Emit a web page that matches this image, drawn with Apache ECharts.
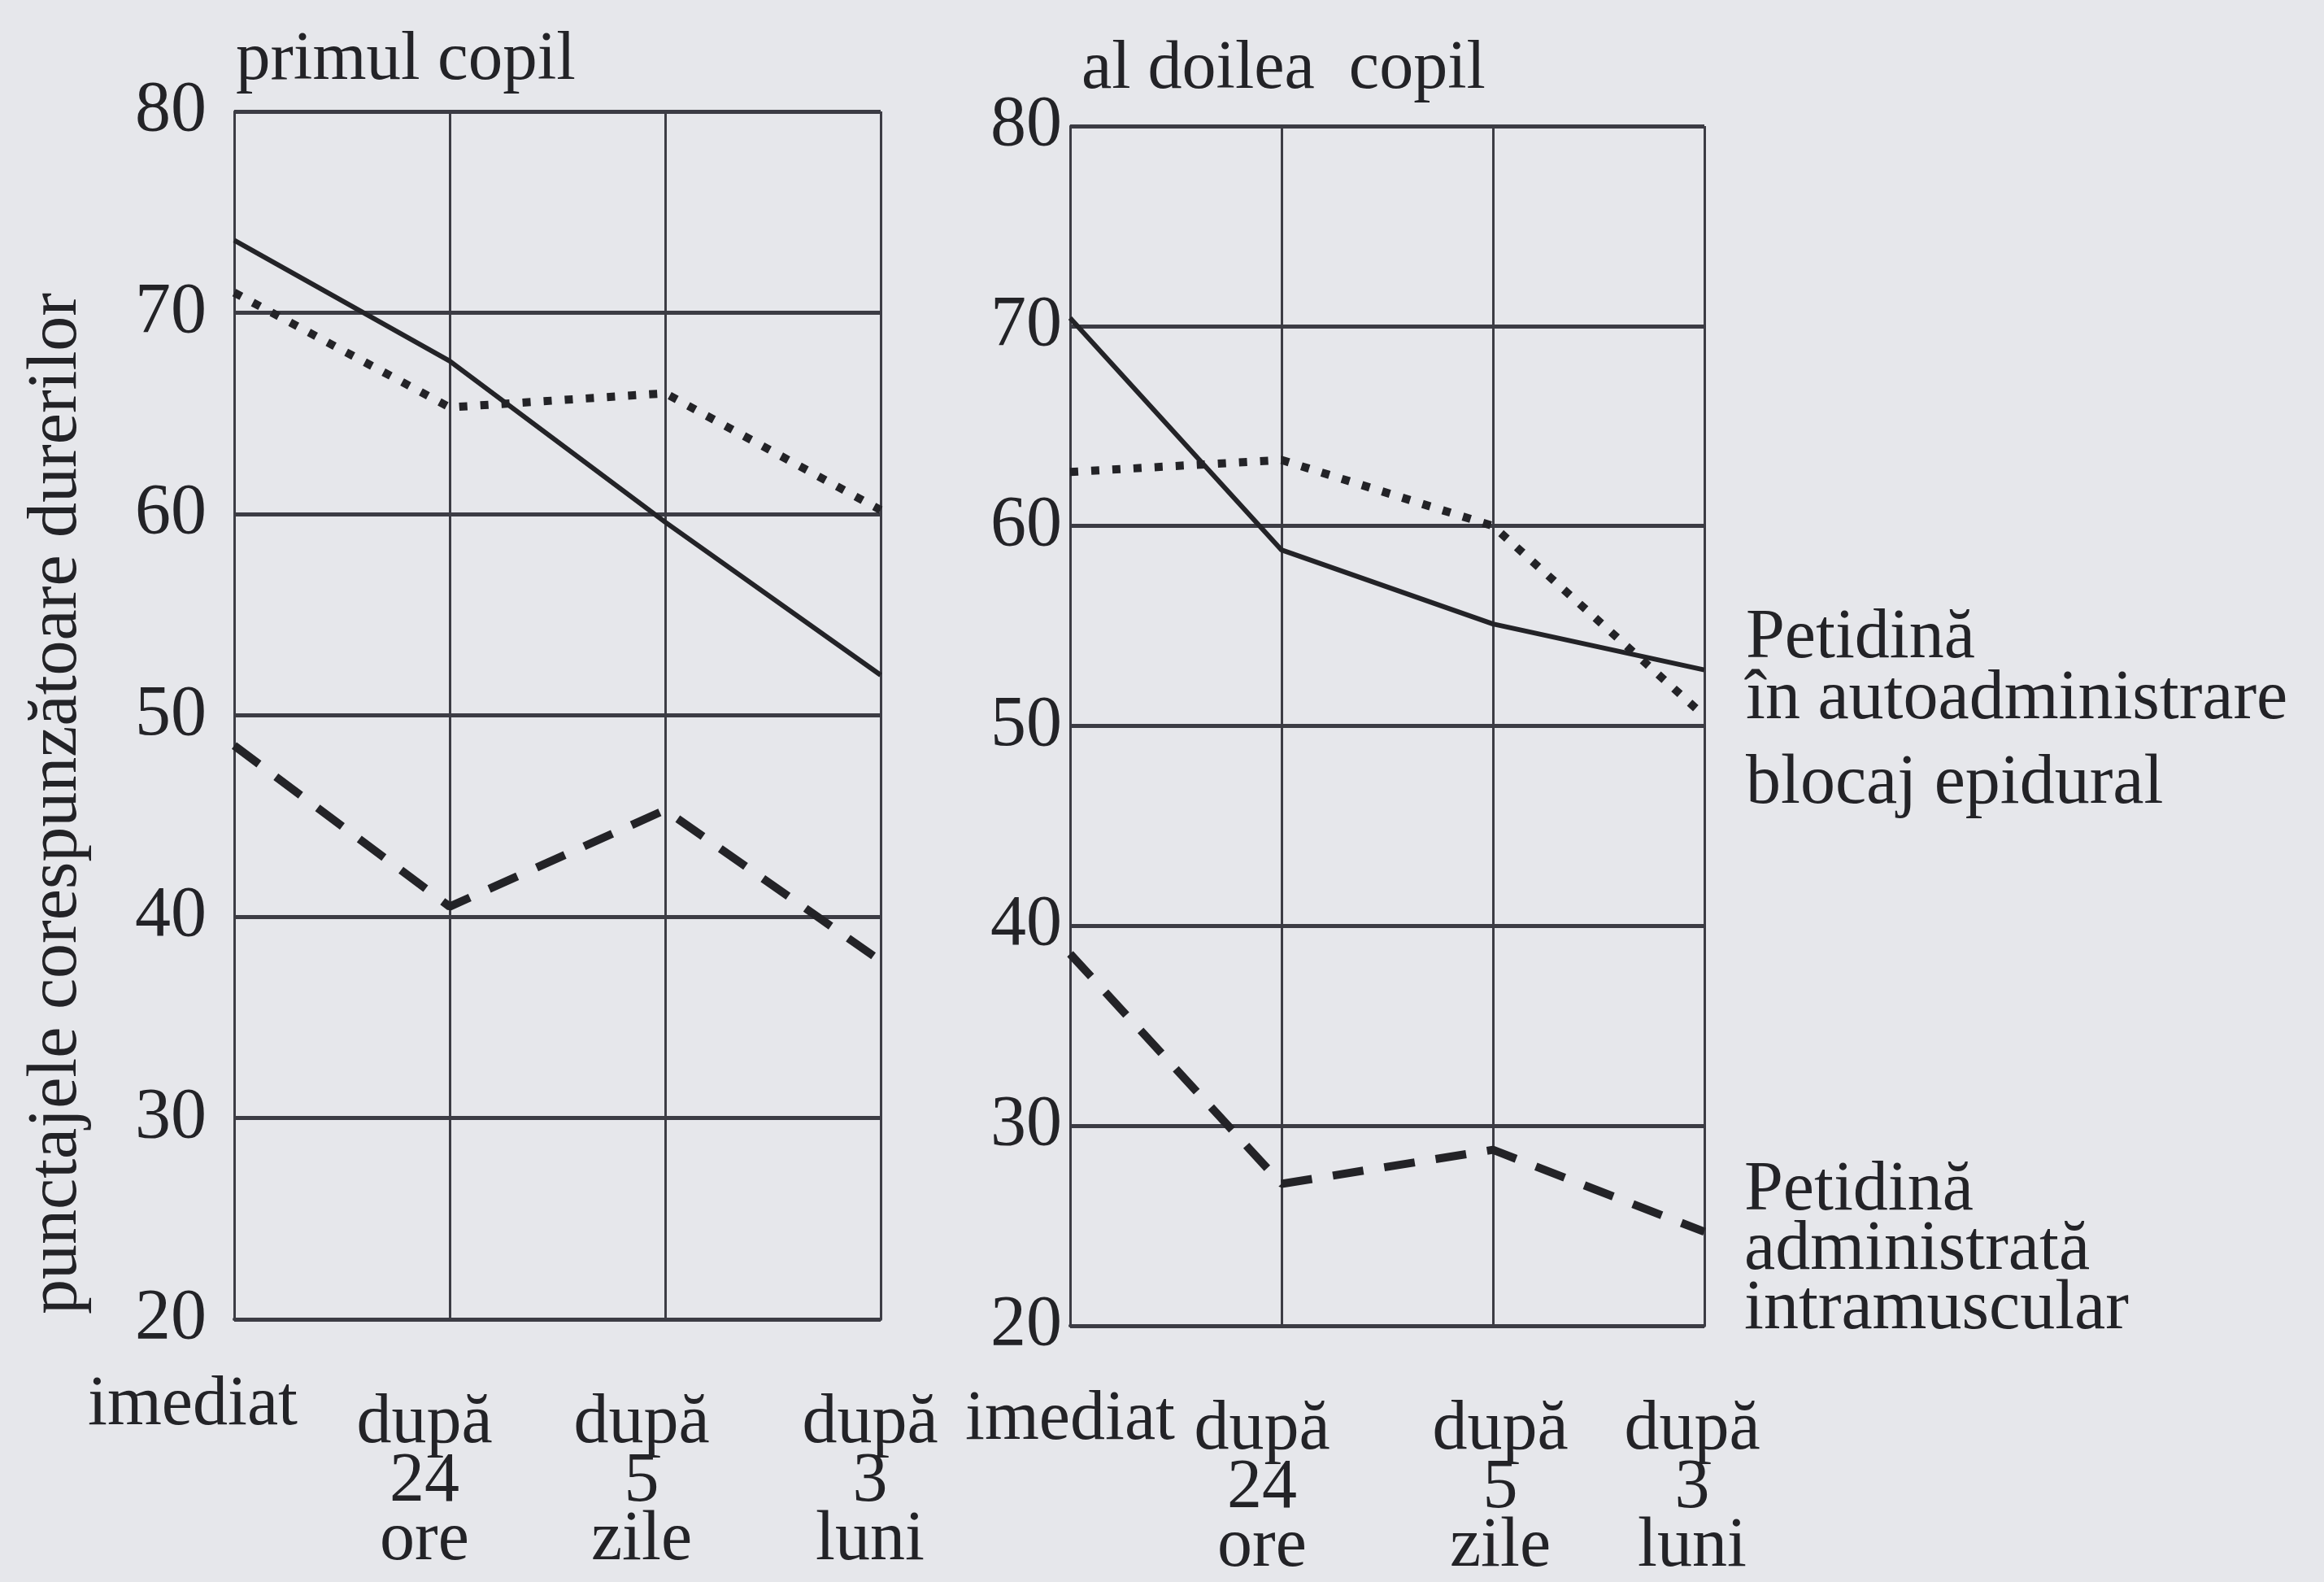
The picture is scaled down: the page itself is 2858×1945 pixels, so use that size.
<!DOCTYPE html>
<html>
<head>
<meta charset="utf-8">
<script src="https://cdn.jsdelivr.net/npm/echarts@6/dist/echarts.min.js"></script>
<style>
  html, body { margin: 0; padding: 0; background: #e6e7eb; }
  #chart { width: 2858px; height: 1945px; }
</style>
</head>
<body>
<div id="chart"></div>
<script>
// momentele masurarii (axa x)
const timeLabels = ['imediat', 'după\n24\nore', 'după\n5\nzile', 'după\n3\nluni'];
// axa y
const yMin = 20;
const yMax = 80;
const yStep = 10;

// primul copil
const firstSelf = [73.6, 67.6, 59.6, 52.0];      // Petidină în autoadministrare
const firstEpidural = [71.0, 65.3, 66.0, 60.2];  // blocaj epidural
const firstIM = [48.5, 40.5, 45.3, 37.8];        // Petidină administrată intramuscular

// al doilea copil
const secondSelf = [70.4, 58.8, 55.1, 52.8];
const secondEpidural = [62.7, 63.3, 60.0, 50.5];
const secondIM = [38.6, 27.1, 28.8, 24.7];

const ink = '#232327';
const gridInk = '#3c3c44';
const serif = '"Liberation Serif", "DejaVu Serif", serif';

const chart = echarts.init(document.getElementById('chart'));

// etichetele de pe axa x nu stau exact sub linii in original
function labelRich(prefix, shifts) {
  const rich = {};
  shifts.forEach((s, i) => {
    rich[prefix + i] = {
      color: ink,
      fontFamily: serif,
      fontSize: 86,
      lineHeight: s.lh || 72,
      padding: [0, s.dx < 0 ? -2 * s.dx : 0, 0, s.dx > 0 ? 2 * s.dx : 0]
    };
  });
  return rich;
}

function xAxisFor(gridIndex, prefix, shifts) {
  return {
    type: 'category',
    gridIndex,
    boundaryGap: false,
    data: timeLabels,
    axisTick: { show: false },
    axisLine: { show: true, lineStyle: { color: gridInk, width: 4 } },
    splitLine: { show: true, lineStyle: { color: gridInk, width: 3 } },
    axisLabel: {
      color: ink,
      fontFamily: serif,
      fontSize: 86,
      lineHeight: 72,
      margin: 92,
      interval: 0,
      verticalAlign: 'top',
      formatter: (value, index) =>
        value.split('\n').map(line => '{' + prefix + index + '|' + line + '}').join('\n'),
      rich: labelRich(prefix, shifts)
    }
  }
}

function yAxisFor(gridIndex, margin) {
  return {
    type: 'value',
    gridIndex,
    min: yMin,
    max: yMax,
    interval: yStep,
    axisTick: { show: false },
    axisLine: { show: true, lineStyle: { color: gridInk, width: 3 } },
    splitLine: { show: true, lineStyle: { color: gridInk, width: 5 } },
    axisLabel: {
      color: ink,
      fontFamily: serif,
      fontSize: 88,
      margin
    }
  }
}

function lineSeries(name, idx, data, kind) {
  const lineStyle = { color: ink, width: 6 };
  if (kind === 'dotted') {
    lineStyle.type = [10, 16];
    lineStyle.width = 10;
  } else if (kind === 'dashed') {
    lineStyle.type = [38, 26];
    lineStyle.width = 10;
  }
  return {
    name,
    type: 'line',
    xAxisIndex: idx,
    yAxisIndex: idx,
    data,
    symbol: 'none',
    lineStyle,
    silent: true
  }
}

chart.setOption({
  backgroundColor: '#e6e7eb',
  animation: false,
  title: [
    {
      text: 'primul copil',
      left: 290,
      top: 32,
      padding: 0,
      textStyle: { color: ink, fontFamily: serif, fontSize: 85, fontWeight: 'normal' }
    },
    {
      text: 'al doilea  copil',
      left: 1330,
      top: 44,
      padding: 0,
      textStyle: { color: ink, fontFamily: serif, fontSize: 84, fontWeight: 'normal' }
    }
  ],
  grid: [
    { left: 288, top: 137, width: 795, height: 1485 },
    { left: 1316, top: 155, width: 780, height: 1480 }
  ],
  xAxis: [
    xAxisFor(0, 'a', [{ dx: -51, lh: 28 }, { dx: -31 }, { dx: -29 }, { dx: -13 }]),
    xAxisFor(1, 'b', [{ dx: 0, lh: 48 }, { dx: -24 }, { dx: 9 }, { dx: -15 }])
  ],
  yAxis: [yAxisFor(0, 34), yAxisFor(1, 10)],
  series: [
    lineSeries('Petidină în autoadministrare', 0, firstSelf, 'solid'),
    lineSeries('blocaj epidural', 0, firstEpidural, 'dotted'),
    lineSeries('Petidină administrată intramuscular', 0, firstIM, 'dashed'),
    lineSeries('Petidină în autoadministrare', 1, secondSelf, 'solid'),
    lineSeries('blocaj epidural', 1, secondEpidural, 'dotted'),
    lineSeries('Petidină administrată intramuscular', 1, secondIM, 'dashed')
  ],
  graphic: [
    {
      type: 'text',
      x: 70,
      y: 988,
      rotation: Math.PI / 2,
      style: {
        text: 'punctajele corespunzătoare durerilor',
        font: '86px ' + serif,
        fill: ink,
        align: 'center',
        verticalAlign: 'middle'
      }
    },
    {
      type: 'text',
      x: 2147,
      y: 748,
      style: {
        text: 'Petidină\nîn autoadministrare',
        font: '86px ' + serif,
        lineHeight: 75,
        fill: ink
      }
    },
    {
      type: 'text',
      x: 2147,
      y: 927,
      style: {
        text: 'blocaj epidural',
        font: '86px ' + serif,
        lineHeight: 75,
        fill: ink
      }
    },
    {
      type: 'text',
      x: 2145,
      y: 1428,
      style: {
        text: 'Petidină\nadministrată\nintramuscular',
        font: '86px ' + serif,
        lineHeight: 73,
        fill: ink
      }
    }
  ]
});

window.addEventListener('resize', () => chart.resize());
</script>
</body>
</html>
